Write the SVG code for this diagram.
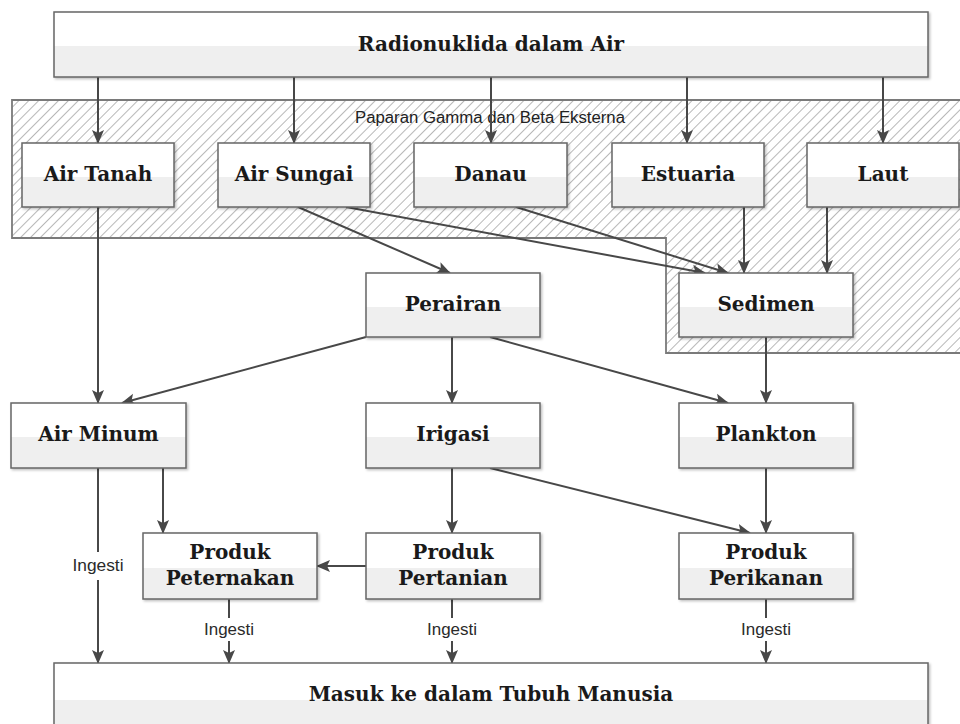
<svg xmlns="http://www.w3.org/2000/svg" width="960" height="724" viewBox="0 0 960 724">
<style>
.box{fill:url(#boxfill);stroke:#666;stroke-width:1.5;filter:url(#sh)}
.lbl{font-family:"DejaVu Serif","Liberation Serif",serif;font-weight:bold;font-size:20px;fill:#1a1a1a;text-anchor:middle}
.ing{font-family:"Liberation Sans",Arial,sans-serif;font-size:16px;fill:#2a2a2a;text-anchor:middle}
.cn{stroke:#484848;stroke-width:2;fill:none;marker-end:url(#ah)}
.zone{fill:url(#hatch);stroke:#7a7a7a;stroke-width:1.8}
</style>
<defs>
<linearGradient id="boxfill" x1="0" y1="0" x2="0" y2="1">
<stop offset="0" stop-color="#ffffff"/>
<stop offset="0.53" stop-color="#ffffff"/>
<stop offset="0.53" stop-color="#efefef"/>
<stop offset="1" stop-color="#efefef"/>
</linearGradient>
<pattern id="hatch" patternUnits="userSpaceOnUse" width="7" height="7" patternTransform="rotate(45)">
<rect width="7" height="7" fill="#fff"/>
<line x1="0" y1="0" x2="0" y2="7" stroke="#999" stroke-width="1.4"/>
</pattern>
<filter id="sh" x="-5%" y="-5%" width="110%" height="120%">
<feDropShadow dx="1.5" dy="1.5" stdDeviation="0.8" flood-color="#000" flood-opacity="0.25"/>
</filter>
<marker id="ah" markerUnits="userSpaceOnUse" markerWidth="14" markerHeight="13" viewBox="0 0 14 13" refX="13" refY="6.5" orient="auto">
<path d="M0,0.5 L14,6.5 L0,12.5 L3,6.5 Z" fill="#484848"/>
</marker>
</defs>
<rect width="960" height="724" fill="#fff"/>

<g id="zone-external">
<path class="zone" d="M12,100 L962,100 L962,353 L666,353 L666,238 L12,238 Z"/>
<text x="490" y="123" font-family="Liberation Sans, Arial, sans-serif" font-size="16" fill="#222" text-anchor="middle" textLength="270" lengthAdjust="spacingAndGlyphs">Paparan Gamma dan Beta Eksterna</text>
</g>

<g id="connectors">
<line class="cn" x1="98" y1="77" x2="98" y2="143"/>
<line class="cn" x1="294" y1="77" x2="294" y2="143"/>
<line class="cn" x1="491" y1="77" x2="491" y2="143"/>
<line class="cn" x1="687" y1="77" x2="687" y2="143"/>
<line class="cn" x1="883" y1="77" x2="883" y2="143"/>
<line class="cn" x1="98" y1="207" x2="98" y2="403"/>
<line class="cn" x1="298" y1="207" x2="450" y2="273"/>
<line class="cn" x1="346" y1="207" x2="705" y2="273"/>
<line class="cn" x1="516" y1="207" x2="728" y2="273"/>
<line class="cn" x1="744" y1="207" x2="744" y2="273"/>
<line class="cn" x1="827" y1="207" x2="827" y2="273"/>
<line class="cn" x1="366" y1="337" x2="122" y2="403"/>
<line class="cn" x1="452" y1="337" x2="452" y2="403"/>
<line class="cn" x1="490" y1="337" x2="728" y2="403"/>
<line class="cn" x1="766" y1="337" x2="766" y2="403"/>
<line class="cn" x1="163" y1="468" x2="163" y2="533"/>
<line class="cn" x1="452" y1="468" x2="452" y2="533"/>
<line class="cn" x1="490" y1="468" x2="750" y2="533"/>
<line class="cn" x1="766" y1="468" x2="766" y2="533"/>
<line class="cn" x1="366" y1="566" x2="317" y2="566"/>
<line class="cn" x1="98" y1="468" x2="98" y2="663"/>
<line class="cn" x1="229" y1="599" x2="229" y2="663"/>
<line class="cn" x1="452" y1="599" x2="452" y2="663"/>
<line class="cn" x1="766" y1="599" x2="766" y2="663"/>
<rect x="70" y="552" width="56" height="28" fill="#fff"/>
<text class="ing" x="98" y="571" textLength="51" lengthAdjust="spacingAndGlyphs">Ingesti</text>
<rect x="201" y="618" width="56" height="23" fill="#fff"/>
<text class="ing" x="229" y="635" textLength="50" lengthAdjust="spacingAndGlyphs">Ingesti</text>
<rect x="424" y="618" width="56" height="23" fill="#fff"/>
<text class="ing" x="452" y="635" textLength="50" lengthAdjust="spacingAndGlyphs">Ingesti</text>
<rect x="738" y="618" width="56" height="23" fill="#fff"/>
<text class="ing" x="766" y="635" textLength="50" lengthAdjust="spacingAndGlyphs">Ingesti</text>
</g>

<g id="radionuklida"><rect class="box" x="54" y="12" width="874" height="65"/><text class="lbl" x="491" y="51">Radionuklida dalam Air</text></g>
<g id="air-tanah"><rect class="box" x="22" y="143" width="152" height="64"/><text class="lbl" x="98" y="181">Air Tanah</text></g>
<g id="air-sungai"><rect class="box" x="218" y="143" width="152" height="64"/><text class="lbl" x="294" y="181">Air Sungai</text></g>
<g id="danau"><rect class="box" x="414" y="143" width="153" height="64"/><text class="lbl" x="490.5" y="181">Danau</text></g>
<g id="estuaria"><rect class="box" x="612" y="143" width="152" height="64"/><text class="lbl" x="688" y="181">Estuaria</text></g>
<g id="laut"><rect class="box" x="807" y="143" width="152" height="64"/><text class="lbl" x="883" y="181">Laut</text></g>
<g id="perairan"><rect class="box" x="366" y="273" width="174" height="64"/><text class="lbl" x="453" y="311">Perairan</text></g>
<g id="sedimen"><rect class="box" x="679" y="273" width="174" height="64"/><text class="lbl" x="766" y="311">Sedimen</text></g>
<g id="air-minum"><rect class="box" x="11" y="403" width="175" height="65"/><text class="lbl" x="98.5" y="441">Air Minum</text></g>
<g id="irigasi"><rect class="box" x="366" y="403" width="174" height="65"/><text class="lbl" x="453" y="441">Irigasi</text></g>
<g id="plankton"><rect class="box" x="679" y="403" width="174" height="65"/><text class="lbl" x="766" y="441">Plankton</text></g>
<g id="produk-peternakan"><rect class="box" x="143" y="533" width="174" height="66"/><text class="lbl" x="230" y="559">Produk</text><text class="lbl" x="230" y="585">Peternakan</text></g>
<g id="produk-pertanian"><rect class="box" x="366" y="533" width="174" height="66"/><text class="lbl" x="453" y="559">Produk</text><text class="lbl" x="453" y="585">Pertanian</text></g>
<g id="produk-perikanan"><rect class="box" x="679" y="533" width="174" height="66"/><text class="lbl" x="766" y="559">Produk</text><text class="lbl" x="766" y="585">Perikanan</text></g>
<g id="tubuh-manusia"><rect class="box" x="54" y="663" width="874" height="70"/><text class="lbl" x="491" y="701">Masuk ke dalam Tubuh Manusia</text></g>
</svg>
